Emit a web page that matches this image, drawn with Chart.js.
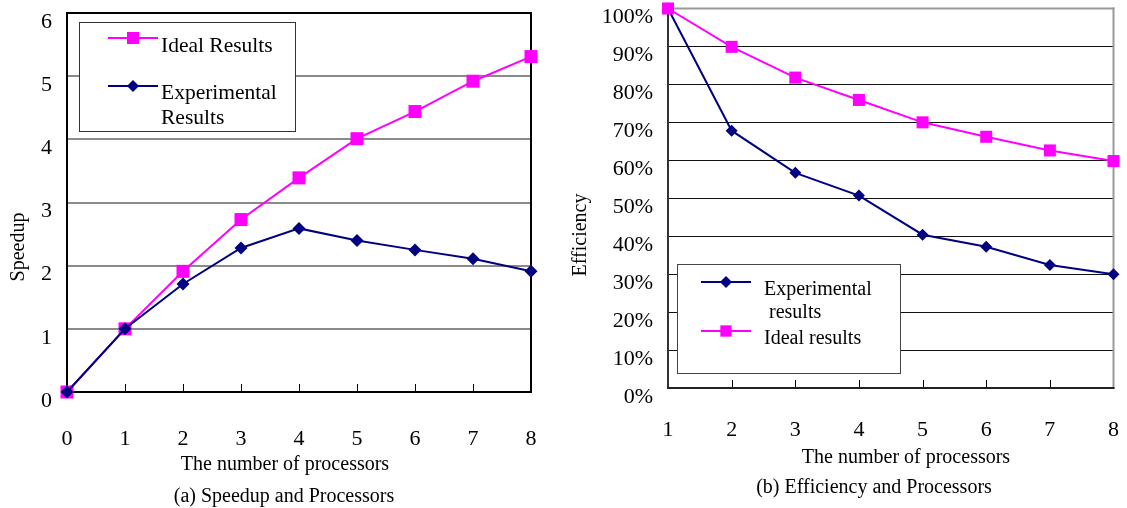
<!DOCTYPE html>
<html>
<head>
<meta charset="utf-8">
<script src="https://cdn.jsdelivr.net/npm/chart.js@4.4.1/dist/chart.umd.min.js"></script>
<style>
  html, body { margin: 0; padding: 0; background: #fff; }
  #figure { position: relative; width: 1127px; height: 508px; overflow: hidden; background: #fff; }
  #figure canvas { position: absolute; top: 0; }
  #speedup { left: 0; }
  #efficiency { left: 560px; }
</style>
</head>
<body>
<div id="figure">
  <canvas id="speedup" width="560" height="508"></canvas>
  <canvas id="efficiency" width="567" height="508"></canvas>
</div>
<script>
// ---- (a) speedup vs. number of processors ----
const speedupProcessors = ['0', '1', '2', '3', '4', '5', '6', '7', '8'];
const speedupIdeal = [0, 1.0, 1.91, 2.73, 3.39, 4.01, 4.44, 4.92, 5.31];
const speedupExperimental = [0, 1.0, 1.71, 2.28, 2.59, 2.40, 2.25, 2.11, 1.91];
const speedupTicks = ['0', '1', '2', '3', '4', '5', '6'];

// ---- (b) efficiency vs. number of processors ----
const efficiencyProcessors = ['1', '2', '3', '4', '5', '6', '7', '8'];
const efficiencyExperimental = [100, 67.8, 56.7, 50.7, 40.4, 37.2, 32.4, 30.0];
const efficiencyIdeal = [100, 89.9, 81.8, 75.9, 70.0, 66.2, 62.6, 59.8];
const efficiencyTicks = ['0%', '10%', '20%', '30%', '40%', '50%', '60%', '70%', '80%', '90%', '100%'];

const SERIF = "'Liberation Serif', 'Times New Roman', Times, serif";
const MAGENTA = '#ff00ff';
const NAVY = '#000080';

// Pin an axis box to a fixed size and drop the label overflow padding,
// so the plot area lands exactly where the layout wants it.
function fixedAxis(size) {
  return function (scale) {
    if (scale.isHorizontal()) scale.height = size; else scale.width = size;
    scale.paddingTop = 0; scale.paddingBottom = 0;
    scale.paddingLeft = 0; scale.paddingRight = 0;
  };
}

function drawMarker(ctx, style, x, y, r, color) {
  ctx.fillStyle = color;
  ctx.beginPath();
  if (style === 'rect') {
    const s = r * Math.SQRT1_2;
    ctx.rect(x - s, y - s, 2 * s, 2 * s);
  } else {
    ctx.moveTo(x - r, y);
    ctx.lineTo(x, y - r);
    ctx.lineTo(x + r, y);
    ctx.lineTo(x, y + r);
    ctx.closePath();
  }
  ctx.fill();
}

// Frame, inward tick marks, boxed legend, axis titles and caption.
const figureDecor = {
  id: 'figureDecor',
  beforeDatasetsDraw(chart, args, o) {
    const ctx = chart.ctx, a = chart.chartArea, xs = chart.scales.x;
    ctx.save();
    ctx.strokeStyle = o.tickColor;
    ctx.lineWidth = 1;
    for (let i = 1; i < xs.ticks.length - 1; i++) {
      const px = Math.round(xs.getPixelForTick(i)) + 0.5;
      ctx.beginPath();
      ctx.moveTo(px, a.bottom);
      ctx.lineTo(px, a.bottom - o.tickLen);
      ctx.stroke();
    }
    const w = o.frameWidth, h = w / 2;
    const seg = (color, x1, y1, x2, y2) => {
      ctx.strokeStyle = color; ctx.lineWidth = w;
      ctx.beginPath(); ctx.moveTo(x1, y1); ctx.lineTo(x2, y2); ctx.stroke();
    };
    seg(o.frame.top, a.left - h, a.top, a.right + h, a.top);
    seg(o.frame.right, a.right, a.top - h, a.right, a.bottom + h);
    seg(o.frame.left, a.left, a.top - h, a.left, a.bottom + h);
    seg(o.frame.bottom, a.left - h, a.bottom, a.right + h, a.bottom);
    ctx.restore();
  },
  afterDatasetsDraw(chart, args, o) {
    const ctx = chart.ctx;
    ctx.save();
    // legend
    const L = o.legend;
    ctx.fillStyle = '#fff';
    ctx.fillRect(L.box[0], L.box[1], L.box[2], L.box[3]);
    ctx.strokeStyle = L.border;
    ctx.lineWidth = 1;
    ctx.strokeRect(L.box[0] + 0.5, L.box[1] + 0.5, L.box[2], L.box[3]);
    L.items.forEach(it => {
      const ds = chart.data.datasets[it.ds];
      ctx.strokeStyle = ds.borderColor;
      ctx.lineWidth = ds.borderWidth;
      ctx.beginPath();
      ctx.moveTo(L.lineX[0], it.y);
      ctx.lineTo(L.lineX[1], it.y);
      ctx.stroke();
      drawMarker(ctx, ds.pointStyle, (L.lineX[0] + L.lineX[1]) / 2, it.y, it.r, ds.backgroundColor);
      ctx.fillStyle = '#000';
      ctx.font = L.fontSize + 'px ' + SERIF;
      ctx.textAlign = 'left';
      ctx.textBaseline = 'middle';
      it.lines.forEach((t, k) => ctx.fillText(t, L.textX, it.textY[k]));
    });
    // titles
    ctx.fillStyle = '#000';
    ctx.textAlign = 'center';
    ctx.textBaseline = 'middle';
    o.texts.forEach(t => {
      ctx.font = t.size + 'px ' + SERIF;
      if (t.rotate) {
        ctx.save();
        ctx.translate(t.x, t.y);
        ctx.rotate(-Math.PI / 2);
        ctx.fillText(t.text, 0, 0);
        ctx.restore();
      } else {
        ctx.fillText(t.text, t.x, t.y);
      }
    });
    ctx.restore();
  }
};

Chart.register(figureDecor);

function tickFont() { return { family: SERIF, size: 22 }; }

// (a) Speedup and Processors
new Chart(document.getElementById('speedup'), {
  type: 'line',
  data: {
    labels: speedupProcessors,
    datasets: [
      {
        label: 'Experimental Results',
        data: speedupExperimental,
        borderColor: NAVY, backgroundColor: NAVY, borderWidth: 2,
        pointStyle: 'rectRot', pointRadius: 6.5, pointBorderWidth: 0,
        tension: 0, clip: false
      },
      {
        label: 'Ideal Results',
        data: speedupIdeal,
        borderColor: MAGENTA, backgroundColor: MAGENTA, borderWidth: 2,
        pointStyle: 'rect', pointRadius: 9.2, pointBorderWidth: 0,
        tension: 0, clip: false
      }
    ]
  },
  options: {
    responsive: false, animation: false, devicePixelRatio: 1,
    layout: { padding: { left: 0, top: 13, right: 29, bottom: 0 } },
    scales: {
      x: {
        type: 'category', offset: false,
        grid: { display: false }, border: { display: false },
        ticks: { font: tickFont(), color: '#000', padding: 26, maxRotation: 0, autoSkip: false },
        afterFit: fixedAxis(116)
      },
      y: {
        min: 0, max: 6,
        grid: { color: '#8a8a8a', lineWidth: 2, drawTicks: false }, border: { display: false },
        ticks: { stepSize: 1, font: tickFont(), color: '#000', padding: 15, labelOffset: 9,
                 callback: (v, i) => speedupTicks[i] },
        afterFit: fixedAxis(67)
      }
    },
    plugins: {
      legend: { display: false }, tooltip: { enabled: false },
      figureDecor: {
        tickColor: '#000', tickLen: 8, frameWidth: 2,
        frame: { top: '#000', right: '#000', left: '#000', bottom: '#000' },
        legend: {
          box: [79, 22, 216, 109], border: '#333', fontSize: 21.5,
          lineX: [108, 158], textX: 161,
          items: [
            { ds: 1, y: 38, r: 8.5, lines: ['Ideal Results'], textY: [46] },
            { ds: 0, y: 86, r: 6, lines: ['Experimental', 'Results'], textY: [93, 118] }
          ]
        },
        texts: [
          { text: 'Speedup', x: 19, y: 247, size: 20, rotate: true },
          { text: 'The number of processors', x: 285, y: 465, size: 20 },
          { text: '(a) Speedup and Processors', x: 284, y: 497, size: 20 }
        ]
      }
    }
  }
});

// (b) Efficiency and Processors
new Chart(document.getElementById('efficiency'), {
  type: 'line',
  data: {
    labels: efficiencyProcessors,
    datasets: [
      {
        label: 'Ideal results',
        data: efficiencyIdeal,
        borderColor: MAGENTA, backgroundColor: MAGENTA, borderWidth: 2,
        pointStyle: 'rect', pointRadius: 8.5, pointBorderWidth: 0,
        tension: 0, clip: false
      },
      {
        label: 'Experimental results',
        data: efficiencyExperimental,
        borderColor: NAVY, backgroundColor: NAVY, borderWidth: 2,
        pointStyle: 'rectRot', pointRadius: 6, pointBorderWidth: 0,
        tension: 0, clip: false
      }
    ]
  },
  options: {
    responsive: false, animation: false, devicePixelRatio: 1,
    layout: { padding: { left: 0, top: 7.5, right: 13.5, bottom: 0 } },
    scales: {
      x: {
        type: 'category', offset: false,
        grid: { display: false }, border: { display: false },
        ticks: { font: tickFont(), color: '#000', padding: 21, maxRotation: 0, autoSkip: false },
        afterFit: fixedAxis(120)
      },
      y: {
        min: 0, max: 100,
        grid: { color: '#111', lineWidth: 1, drawTicks: false }, border: { display: false },
        ticks: { stepSize: 10, font: tickFont(), color: '#000', padding: 15, labelOffset: 9,
                 callback: (v, i) => efficiencyTicks[i] },
        afterFit: fixedAxis(108)
      }
    },
    plugins: {
      legend: { display: false }, tooltip: { enabled: false },
      figureDecor: {
        tickColor: '#000', tickLen: 8, frameWidth: 2,
        frame: { top: '#999', right: '#999', left: '#333', bottom: '#222' },
        legend: {
          box: [117, 264, 223, 109], border: '#444', fontSize: 20,
          lineX: [141, 191], textX: 204,
          items: [
            { ds: 1, y: 282, r: 6, lines: ['Experimental', ' results'], textY: [290, 313] },
            { ds: 0, y: 331, r: 8, lines: ['Ideal results'], textY: [339] }
          ]
        },
        texts: [
          { text: 'Efficiency', x: 21, y: 235, size: 20, rotate: true },
          { text: 'The number of processors', x: 346, y: 458, size: 20 },
          { text: '(b) Efficiency and Processors', x: 314, y: 488, size: 20 }
        ]
      }
    }
  }
});
</script>
</body>
</html>
